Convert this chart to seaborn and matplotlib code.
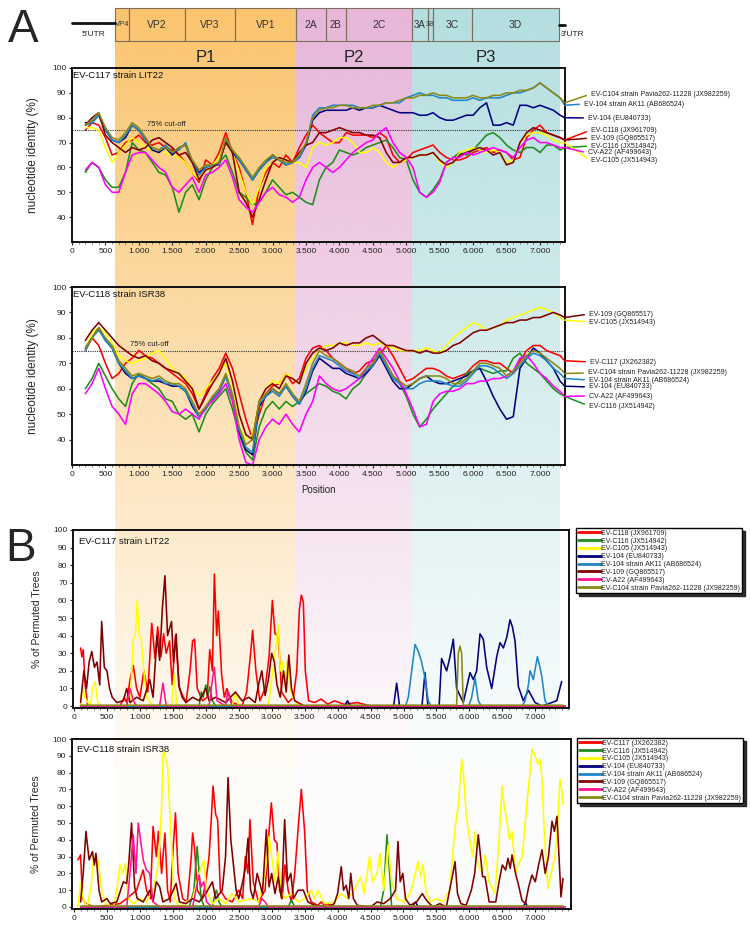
import numpy as np
import pandas as pd
import matplotlib
matplotlib.use("Agg")
import matplotlib.pyplot as plt
import matplotlib.colors as mcolors
import seaborn as sns
from matplotlib.lines import Line2D
from matplotlib.patches import Rectangle
from matplotlib.ticker import FuncFormatter, MultipleLocator

# ---------------------------------------------------------------- data
# panel A: sliding-window nucleotide identity (%), sampled every 100 nt
pos_a = np.append(np.arange(200, 7400, 100), 7370)

# query EV-C117 strain LIT22
a1_c118 = [75, 78, 77, 72, 65, 66, 70, 71, 73,
           70, 69, 70, 68, 67, 65, 62, 58, 54, 63,
           61, 66, 74, 66, 60, 50, 37, 52, 58, 62,
           60, 65, 62, 68, 73, 77, 74, 72, 70, 70,
           74, 73, 73, 73, 72, 74, 72, 65, 62, 63,
           66, 67, 68, 69, 66, 64, 63, 63, 64, 66,
           67, 68, 66, 67, 66, 63, 64, 72, 75, 77,
           74, 73, 72, 71]
a1_c116 = [58, 62, 60, 55, 52, 52, 58, 70, 67,
           66, 62, 58, 57, 52, 42, 50, 53, 47, 55,
           60, 62, 65, 58, 50, 48, 45, 46, 50, 55,
           52, 49, 50, 48, 46, 45, 55, 60, 62, 67,
           66, 65, 66, 68, 69, 70, 71, 68, 64, 63,
           55, 50, 48, 51, 55, 62, 64, 66, 65, 67,
           70, 73, 74, 72, 69, 67, 66, 68, 68, 66,
           69, 69, 67, 68]
a1_c105 = [76, 76, 75, 68, 62, 66, 69, 72, 70,
           68, 67, 67, 66, 65, 64, 62, 58, 55, 60,
           61, 64, 70, 66, 58, 50, 45, 52, 60, 62,
           64, 63, 62, 62, 60, 68, 70, 69, 70, 72,
           72, 70, 66, 66, 68, 66, 62, 60, 62, 63,
           64, 65, 65, 66, 62, 60, 62, 66, 67, 68,
           67, 66, 67, 66, 62, 63, 70, 73, 74, 74,
           73, 71, 70, 70]
a1_104 = [78, 78, 81, 75, 71, 70, 72, 77, 75,
          71, 67, 66, 68, 65, 68, 69, 62, 58, 60,
          61, 61, 71, 66, 63, 59, 55, 59, 62, 65,
          63, 61, 62, 64, 69, 79, 82, 83, 83, 83,
          83, 84, 83, 84, 84, 85, 84, 83, 82, 82,
          82, 81, 81, 82, 80, 79, 79, 80, 81, 81,
          84, 86, 77, 77, 78, 77, 85, 85, 84, 85,
          84, 83, 81, 80]
a1_104ak11 = [77, 78, 81, 75, 71, 70, 73, 77, 75,
              71, 68, 67, 69, 66, 67, 70, 62, 57, 60,
              61, 61, 71, 67, 63, 59, 55, 59, 62, 64,
              63, 61, 62, 64, 69, 81, 84, 84, 85, 85,
              85, 85, 84, 84, 84, 85, 86, 86, 86, 88,
              89, 90, 89, 89, 88, 88, 87, 87, 87, 88,
              87, 88, 88, 88, 89, 90, 90, 91, 92, 94,
              92, 90, 88, 85]
a1_109 = [77, 80, 82, 73, 70, 68, 66, 68, 67,
          68, 71, 72, 70, 68, 65, 66, 62, 55, 59,
          60, 62, 70, 66, 50, 46, 40, 47, 55, 62,
          64, 63, 62, 66, 69, 70, 74, 74, 75, 76,
          75, 74, 74, 73, 73, 72, 66, 62, 62, 64,
          64, 65, 65, 66, 63, 61, 62, 65, 66, 67,
          68, 67, 65, 66, 61, 62, 70, 74, 76, 75,
          74, 73, 72, 71]
a1_a22 = [59, 62, 60, 53, 50, 50, 58, 65, 66,
          66, 63, 60, 58, 52, 50, 53, 56, 50, 57,
          58, 60, 63, 56, 47, 44, 42, 46, 50, 52,
          49, 48, 46, 48, 55, 60, 62, 60, 58, 60,
          63, 66, 68, 70, 71, 74, 76, 70, 66, 64,
          60, 50, 48, 50, 54, 62, 64, 64, 66, 65,
          66, 67, 68, 67, 66, 64, 68, 71, 72, 70,
          70, 69, 68, 68]
a1_c104 = [77, 79, 82, 76, 72, 71, 74, 78, 76,
           72, 68, 67, 68, 66, 68, 69, 63, 59, 61,
           61, 62, 72, 67, 64, 60, 56, 60, 63, 65,
           63, 62, 62, 65, 70, 80, 83, 84, 84, 85,
           85, 84, 84, 84, 85, 85, 86, 86, 87, 88,
           88, 89, 89, 90, 89, 89, 88, 88, 88, 89,
           88, 88, 89, 89, 90, 90, 91, 91, 92, 94,
           92, 90, 88, 86]

# query EV-C118 strain ISR38
a2_c117 = [75, 80, 77, 70, 64, 66, 70, 72, 75,
           73, 72, 70, 68, 66, 64, 62, 58, 52, 58,
           64, 68, 74, 68, 58, 48, 40, 50, 58, 61,
           62, 66, 62, 64, 72, 76, 77, 75, 72, 70,
           68, 66, 67, 70, 71, 73, 77, 73, 68, 63,
           64, 66, 68, 68, 67, 65, 64, 65, 66, 69,
           71, 71, 70, 70, 68, 66, 71, 75, 77, 77,
           75, 74, 73, 71]
a2_c116 = [60, 64, 70, 65, 60, 56, 53, 62, 66,
           64, 62, 60, 56, 55, 50, 48, 50, 43, 50,
           54, 57, 60, 52, 42, 35, 32, 45, 52, 55,
           52, 55, 53, 55, 58, 60, 62, 61, 59, 58,
           56, 60, 62, 66, 70, 75, 70, 65, 62, 57,
           50, 45, 48, 52, 55, 58, 61, 63, 66, 67,
           68, 67, 66, 67, 67, 72, 74, 70, 68, 66,
           63, 60, 58, 57]
a2_c105 = [76, 82, 84, 82, 78, 73, 71, 70, 71,
           72, 74, 75, 72, 68, 66, 64, 60, 57, 60,
           63, 66, 70, 62, 45, 40, 42, 55, 60, 63,
           62, 66, 64, 62, 68, 72, 75, 77, 77, 78,
           78, 77, 77, 78, 77, 78, 77, 76, 75, 75,
           75, 75, 76, 75, 74, 77, 80, 82, 84, 86,
           85, 83, 84, 85, 87, 88, 89, 90, 91, 92,
           91, 90, 88, 87]
a2_104 = [76, 80, 84, 79, 76, 70, 66, 64, 65,
          64, 63, 63, 62, 61, 61, 59, 53, 49, 52,
          56, 59, 65, 57, 43, 36, 34, 53, 57, 60,
          58, 61, 57, 54, 59, 67, 72, 70, 68, 68,
          66, 65, 64, 66, 69, 73, 68, 63, 60, 60,
          62, 64, 65, 63, 62, 62, 63, 64, 65, 67,
          68, 63, 57, 52, 48, 49, 68, 72, 76, 74,
          71, 68, 63, 61]
a2_104ak11 = [75, 80, 83, 79, 76, 70, 67, 64, 65,
              64, 63, 64, 62, 62, 61, 59, 54, 49, 52,
              56, 59, 65, 57, 44, 37, 35, 54, 57, 59,
              57, 61, 57, 54, 60, 68, 73, 72, 71, 69,
              67, 66, 64, 67, 69, 74, 69, 64, 62, 60,
              60, 62, 63, 63, 63, 62, 61, 61, 63, 66,
              69, 69, 68, 66, 64, 66, 69, 72, 74, 73,
              71, 68, 66, 64]
a2_109 = [79, 83, 86, 83, 80, 77, 75, 73, 72,
          73, 71, 70, 68, 67, 66, 63, 60, 52, 57,
          62, 66, 72, 63, 50, 42, 40, 55, 60, 62,
          60, 65, 64, 62, 70, 74, 76, 75, 76, 78,
          77, 78, 78, 80, 81, 79, 77, 77, 76, 75,
          75, 74, 75, 74, 74, 75, 77, 78, 80, 82,
          83, 83, 84, 85, 86, 86, 87, 87, 88, 88,
          89, 90, 89, 88]
a2_a22 = [58, 62, 68, 60, 53, 50, 46, 58, 62,
          62, 60, 58, 55, 51, 50, 52, 50, 48, 53,
          55, 58, 62, 55, 40, 31, 30, 40, 45, 48,
          46, 50, 46, 43, 50, 55, 65, 62, 60, 59,
          60, 62, 64, 68, 72, 76, 72, 68, 63, 58,
          52, 45, 46, 55, 58, 59, 59, 60, 62, 62,
          63, 63, 64, 64, 65, 67, 72, 73, 70, 66,
          64, 61, 59, 57]
a2_c104 = [76, 80, 84, 80, 77, 71, 68, 65, 66,
           65, 64, 65, 63, 62, 62, 60, 55, 50, 53,
           57, 60, 66, 58, 45, 38, 40, 55, 58, 60,
           58, 62, 58, 55, 62, 70, 75, 73, 72, 70,
           68, 67, 65, 68, 70, 75, 70, 65, 63, 61,
           62, 64, 65, 65, 65, 64, 62, 62, 64, 67,
           70, 70, 69, 68, 65, 67, 70, 73, 75, 74,
           72, 70, 68, 66]

# panel B: % of permuted trees, (position, value) points
b1_c118 = [(100, 33), (120, 28), (140, 32), (170, 12), (210, 0), (700, 0), (760, 5), (800, 2),
           (850, 15), (900, 23), (950, 10), (1000, 5), (1060, 20), (1120, 8), (1180, 47),
           (1230, 27), (1270, 45), (1320, 28), (1360, 41), (1400, 30), (1450, 37), (1490, 12),
           (1540, 40), (1600, 10), (1700, 2), (1760, 20), (1800, 37), (1830, 38), (1870, 10),
           (1950, 3), (2020, 5), (2060, 32), (2100, 20), (2130, 75), (2165, 40), (2190, 54),
           (2240, 18), (2280, 5), (2320, 10), (2400, 2), (2550, 0), (2620, 8), (2680, 30),
           (2710, 43), (2760, 20), (2820, 3), (2900, 10), (2960, 28), (3010, 60), (3050, 41),
           (3100, 40), (3150, 8), (3250, 2), (3330, 5), (3380, 20), (3420, 55), (3450, 63),
           (3480, 59), (3510, 20), (3560, 3), (3650, 2), (3750, 4), (3850, 1), (3950, 3),
           (4100, 1), (4300, 2), (4500, 0), (7450, 0)]
b1_c116 = [(100, 0), (1900, 0), (1930, 8), (1960, 5), (2000, 12), (2030, 6), (2060, 11),
           (2100, 3), (2150, 0), (7450, 0)]
b1_c105 = [(100, 0), (130, 12), (160, 5), (250, 0), (280, 10), (320, 14), (360, 2), (400, 0),
           (850, 0), (900, 38), (930, 40), (960, 60), (990, 40), (1020, 38), (1060, 20),
           (1100, 5), (1200, 0), (1480, 0), (1520, 18), (1560, 0), (2400, 0), (2450, 8),
           (2500, 0), (2950, 0), (3000, 15), (3050, 30), (3100, 46), (3130, 20), (3160, 25),
           (3200, 12), (3240, 26), (3280, 10), (3320, 5), (3400, 0), (7450, 0)]
b1_104 = [(100, 0), (4100, 0), (4150, 3), (4200, 0), (4850, 0), (4896, 13), (4940, 0),
          (5280, 0), (5326, 19), (5370, 0), (5540, 0), (5578, 27), (5655, 20), (5705, 28),
          (5756, 38), (5806, 10), (5907, 2), (6009, 19), (6060, 15), (6110, 20), (6161, 41),
          (6211, 38), (6262, 22), (6338, 10), (6414, 28), (6464, 36), (6515, 33), (6566, 39),
          (6616, 49), (6652, 45), (6692, 37), (6743, 11), (6818, 3), (6895, 9), (6996, 2),
          (7100, 0), (7325, 3), (7400, 14)]
b1_104ak11 = [(100, 0), (5030, 0), (5073, 5), (5124, 20), (5175, 35), (5225, 31), (5275, 25),
              (5326, 16), (5376, 3), (5420, 0), (5990, 0), (6034, 5), (6085, 16), (6135, 3),
              (6180, 0), (6800, 0), (6844, 3), (6895, 12), (6920, 20), (6970, 15), (7031, 28),
              (7071, 22), (7097, 17), (7147, 3), (7200, 0), (7420, 0)]
b1_109 = [(100, 2), (150, 20), (190, 10), (230, 25), (270, 31), (310, 22), (350, 25), (390, 12),
          (420, 48), (460, 22), (500, 20), (540, 10), (580, 5), (650, 2), (750, 3), (800, 10),
          (850, 2), (950, 5), (1050, 3), (1150, 15), (1200, 5), (1260, 40), (1300, 26),
          (1340, 55), (1380, 74), (1420, 40), (1450, 44), (1480, 48), (1510, 25), (1550, 41),
          (1590, 12), (1640, 5), (1700, 2), (1800, 5), (1900, 3), (2000, 10), (2050, 3),
          (2150, 5), (2300, 2), (2450, 8), (2550, 3), (2650, 5), (2750, 2), (2800, 12),
          (2850, 20), (2900, 6), (2950, 15), (3000, 30), (3040, 25), (3080, 12), (3130, 5),
          (3180, 20), (3220, 8), (3260, 29), (3300, 10), (3350, 3), (3400, 2), (3500, 0),
          (7450, 0)]
b1_a22 = [(100, 0), (800, 0), (850, 10), (900, 3), (950, 0), (1300, 0), (1350, 13), (1400, 0),
          (2050, 0), (2100, 15), (2130, 22), (2170, 3), (2300, 0), (2330, 8), (2400, 0),
          (7450, 0)]
b1_c104 = [(100, 0.5), (5806, 0.5), (5831, 30), (5857, 34), (5882, 30), (5907, 0.5),
           (7420, 0.5)]

b2_c117 = [(60, 28), (100, 31), (130, 5), (180, 2), (300, 0), (700, 2), (800, 5), (950, 10),
           (1050, 22), (1100, 10), (1160, 5), (1200, 48), (1250, 30), (1280, 45), (1330, 20),
           (1380, 44), (1420, 10), (1460, 3), (1500, 32), (1540, 56), (1580, 20), (1650, 5),
           (1720, 3), (1780, 30), (1800, 44), (1830, 35), (1870, 10), (1950, 5), (2000, 15),
           (2050, 30), (2080, 50), (2110, 72), (2150, 55), (2180, 52), (2220, 10), (2300, 5),
           (2400, 3), (2500, 10), (2560, 5), (2600, 30), (2640, 20), (2670, 52), (2720, 15),
           (2800, 3), (2900, 10), (2960, 45), (2995, 62), (3040, 40), (3080, 38), (3120, 10),
           (3160, 5), (3200, 25), (3250, 10), (3300, 3), (3350, 20), (3410, 51), (3450, 70),
           (3500, 45), (3540, 10), (3600, 3), (3700, 1), (3750, 3), (3800, 1), (3850, 2),
           (3950, 0), (7450, 0)]
b2_c116 = [(100, 0), (1750, 0), (1820, 10), (1869, 36), (1900, 20), (1930, 5), (1980, 0),
           (2100, 0), (2140, 8), (2162, 10), (2200, 3), (2250, 0), (3250, 0), (3300, 4),
           (3350, 0), (4650, 0), (4700, 10), (4750, 43), (4790, 20), (4820, 0), (7450, 0)]
b2_c105 = [(60, 0), (100, 14), (140, 5), (200, 0), (260, 12), (300, 30), (343, 30), (370, 27),
           (420, 10), (480, 2), (600, 0), (650, 10), (697, 25), (740, 20), (780, 26), (820, 5),
           (900, 2), (1000, 5), (1100, 3), (1200, 10), (1280, 25), (1330, 60), (1353, 93),
           (1380, 90), (1420, 84), (1450, 60), (1490, 30), (1520, 5), (1600, 0), (1700, 3),
           (1800, 5), (1900, 20), (1970, 28), (2010, 10), (2100, 2), (2200, 5), (2300, 2),
           (2400, 8), (2500, 3), (2700, 5), (2800, 3), (2900, 20), (2960, 42), (3000, 30),
           (3050, 15), (3096, 33), (3140, 10), (3200, 5), (3300, 8), (3400, 3), (3500, 5),
           (3600, 10), (3650, 5), (3700, 10), (3800, 2), (3950, 3), (4050, 8), (4150, 5),
           (4250, 10), (4350, 18), (4400, 8), (4450, 20), (4485, 30), (4530, 15), (4600, 20),
           (4643, 32), (4700, 10), (4768, 37), (4820, 15), (4900, 5), (5000, 3), (5100, 8),
           (5150, 15), (5220, 27), (5260, 18), (5296, 25), (5340, 10), (5400, 3), (5500, 5),
           (5600, 3), (5700, 10), (5782, 47), (5830, 60), (5883, 88), (5910, 80), (5950, 55),
           (6009, 39), (6050, 30), (6085, 45), (6130, 25), (6200, 20), (6237, 31), (6300, 15),
           (6389, 8), (6450, 40), (6495, 72), (6530, 60), (6571, 50), (6610, 40), (6647, 45),
           (6700, 20), (6737, 25), (6800, 30), (6874, 62), (6920, 80), (6950, 94), (6996, 90),
           (7040, 85), (7070, 88), (7102, 76), (7140, 41), (7193, 11), (7240, 20), (7299, 30),
           (7340, 50), (7375, 76), (7400, 70), (7420, 61)]
b2_104 = [(100, 0), (5130, 0), (5180, 3), (5230, 0), (6820, 0), (6850, 3), (6880, 0), (7420, 0)]
b2_104ak11 = [(100, 0), (7420, 0)]
b2_109 = [(100, 3), (140, 20), (182, 45), (230, 28), (280, 33), (310, 25), (333, 32), (380, 10),
          (420, 3), (500, 5), (550, 2), (650, 3), (750, 15), (800, 14), (830, 25), (874, 50),
          (920, 12), (960, 5), (1050, 3), (1150, 10), (1200, 3), (1250, 15), (1300, 12),
          (1350, 3), (1450, 5), (1550, 14), (1600, 3), (1700, 2), (1800, 5), (1900, 3),
          (2000, 8), (2100, 15), (2150, 5), (2250, 10), (2300, 30), (2338, 77), (2380, 40),
          (2420, 25), (2460, 10), (2500, 5), (2560, 15), (2600, 23), (2641, 41), (2680, 10),
          (2720, 5), (2780, 20), (2860, 8), (2919, 46), (2960, 12), (3000, 20), (3050, 8),
          (3100, 18), (3150, 5), (3197, 52), (3240, 15), (3290, 20), (3330, 5), (3400, 10),
          (3480, 10), (3550, 3), (3650, 1), (3850, 0), (3950, 2), (4000, 8), (4056, 24),
          (4090, 10), (4130, 13), (4170, 5), (4200, 20), (4240, 5), (4300, 1), (4500, 0),
          (4600, 3), (4700, 2), (4800, 5), (4880, 10), (4916, 39), (4950, 15), (4990, 20),
          (5030, 5), (5100, 1), (5200, 3), (5286, 8), (5330, 5), (5370, 3), (5450, 0),
          (5550, 2), (5650, 0), (5700, 10), (5750, 20), (5782, 27), (5820, 8), (5870, 2),
          (5950, 1), (6030, 10), (6080, 20), (6135, 43), (6170, 30), (6200, 18), (6237, 18),
          (6300, 3), (6400, 3), (6450, 15), (6500, 25), (6550, 22), (6586, 29), (6620, 23),
          (6647, 31), (6700, 20), (6740, 14), (6798, 4), (6850, 2), (6900, 12), (6950, 19),
          (7000, 15), (7050, 25), (7102, 34), (7150, 20), (7200, 30), (7254, 51), (7290, 45),
          (7329, 54), (7360, 30), (7390, 6), (7420, 17)]
b2_a22 = [(100, 0), (800, 0), (850, 20), (899, 43), (940, 20), (975, 50), (1010, 40), (1050, 28),
          (1100, 22), (1150, 20), (1200, 3), (1300, 0), (1800, 0), (1850, 10), (1894, 19),
          (1930, 12), (1970, 15), (2010, 3), (2100, 0), (2800, 0), (2850, 5), (2900, 3),
          (2950, 0), (7450, 0)]
b2_c104 = [(100, 0.5), (7420, 0.5)]

# genome map (nt positions)
gene_names = ["VP4", "VP2", "VP3", "VP1", "2A", "2B", "2C", "3A", "3B", "3C", "3D"]
gene_starts = [643, 852, 1689, 2436, 3348, 3797, 4096, 5082, 5321, 5396, 5979]
genome_end = 7284
region_names = ["P1", "P2", "P3"]
region_bounds = [643, 3348, 5082, 7284]

names = {
    "C118": "EV-C118 (JX961709)",
    "C117": "EV-C117 (JX262382)",
    "C116": "EV-C116 (JX514942)",
    "C105": "EV-C105 (JX514943)",
    "104": "EV-104 (EU840733)",
    "104AK11": "EV-104 strain AK11 (AB686524)",
    "109": "EV-109 (GQ865517)",
    "A22": "CV-A22 (AF499643)",
    "C104": "EV-C104 strain Pavia262-11228 (JX982259)",
}
colors = {
    "C118": "#FF0000", "C117": "#FF0000", "C116": "#1E8C1E", "C105": "#FFFF00",
    "104": "#000080", "104AK11": "#1F86C8", "109": "#800000", "A22": "#FF00FF",
    "C104": "#8A8A12",
}
region_colors = ["#FBC46E", "#E7B6D9", "#B4DEE0"]

# ---------------------------------------------------------------- figure
W, H = 750, 925
sns.set_theme(style="ticks")
plt.rcParams["font.family"] = ["Liberation Sans", "DejaVu Sans"]
NARROW = ["Liberation Sans Narrow", "Liberation Sans", "DejaVu Sans"]

fig = plt.figure(figsize=(W / 100, H / 100), dpi=100)


def px_axes(x0, y0, x1, y1):
    return fig.add_axes([x0 / W, 1 - y1 / H, (x1 - x0) / W, (y1 - y0) / H])


def thousands(v, _):
    return f"{int(round(v)):,}".replace(",", ".")


# background: coloured P1/P2/P3 bands that fade towards the bottom
XMAX_A = 7374
bg = px_axes(72, 0, 565, H)
bg.set_zorder(-1)
ys = np.linspace(8, 908, 300)
fade = np.clip(1 - (ys - 8) / 800, 0.05, 1)
for i, c in enumerate(region_colors):
    img = np.zeros((len(ys), 1, 4))
    img[..., :3] = mcolors.to_rgb(c)
    img[..., 3] = fade[:, None]
    bg.imshow(img, extent=(region_bounds[i], region_bounds[i + 1], 908, 8),
              aspect="auto", interpolation="bilinear")
bg.set_xlim(0, XMAX_A)
bg.set_ylim(H, 0)
bg.axis("off")

# genome map
ends = gene_starts[1:] + [genome_end]
for g, s, e in zip(gene_names, gene_starts, ends):
    bg.add_patch(Rectangle((s, 8), e - s, 33, fill=False, ec="#7D6E5E", lw=0.8))
    fs = 7.5
    if g == "VP4":
        fs = 5.5
    elif g in ("3A", "2B"):
        fs = 7
    elif g == "3B":
        fs = 5
    bg.text((s + e) / 2, 25, g, ha="center", va="center", fontsize=fs,
            family=NARROW, color="#333333")
bg.add_line(Line2D([0, gene_starts[0]], [23, 23], color="#111111", lw=2, clip_on=False))
bg.add_line(Line2D([genome_end, XMAX_A], [25, 25], color="#111111", lw=2, clip_on=False))
bg.text(gene_starts[0] / 2, 34, "5\u2019UTR", ha="center", va="center", fontsize=6,
        family=NARROW, color="#222222")
bg.text(genome_end + 20, 34, "3\u2019UTR", ha="left", va="center", fontsize=6,
        family=NARROW, color="#222222", clip_on=False)
for i, r in enumerate(region_names):
    bg.text((region_bounds[i] + region_bounds[i + 1]) / 2, 58, r, ha="center",
            va="center", fontsize=12, color="#222222")

fig.text(8 / W, 1 - 42 / H, "A", fontsize=33, va="baseline")
fig.text(5 / W, 1 - 561 / H, "B", fontsize=33, va="baseline")


def style_axes(ax, xlim, ylim, yticks):
    ax.set_facecolor("none")
    ax.set_xlim(*xlim)
    ax.set_ylim(*ylim)
    ax.set_xticks(np.arange(0, 7001, 500))
    ax.xaxis.set_minor_locator(MultipleLocator(100))
    ax.set_yticks(yticks)
    ax.xaxis.set_major_formatter(FuncFormatter(thousands))
    ax.tick_params(which="major", length=2.5, width=0.8, labelsize=6,
                   colors="#222222", pad=1.5)
    ax.tick_params(which="minor", length=1.3, width=0.5, colors="#444444")
    for s in ax.spines.values():
        s.set_linewidth(1.4)
        s.set_color("#111111")
    ax.set_xlabel("")
    ax.set_ylabel("")


def draw_identity(ax, series, keys, title, label_px):
    frames = [pd.DataFrame({"pos": pos_a, "identity": series[k], "strain": names[k]})
              for k in keys]
    df = pd.concat(frames, ignore_index=True)
    pal = {names[k]: colors[k] for k in keys}
    sns.lineplot(data=df, x="pos", y="identity", hue="strain",
                 hue_order=[names[k] for k in keys], palette=pal, estimator=None,
                 sort=False, legend=False, linewidth=1.15, ax=ax)
    style_axes(ax, (0, XMAX_A), (30, 100), np.arange(40, 101, 10))
    ax.axhline(75, color="#333333", ls=(0, (1, 1)), lw=0.8, zorder=1.5)
    ax.set_ylabel("nucleotide identity (%)", fontsize=8.5)
    ax.yaxis.set_label_coords(-0.067, 0.5)
    ax.text(0.003, 0.985, title, transform=ax.transAxes, ha="left", va="top",
            fontsize=6.8, color="#111111")
    for k in keys:
        tx, ty = label_px[k]
        ax.annotate(names[k], xy=(pos_a[-1], series[k][-1]), xycoords="data",
                    xytext=(tx, H - ty), textcoords="figure pixels", fontsize=5,
                    ha="left", va="center", color="#222222", annotation_clip=False,
                    arrowprops=dict(arrowstyle="-", color=colors[k], lw=1.1,
                                    shrinkA=1, shrinkB=0, relpos=(0, 0.5)))


def draw_permuted(ax, series, keys, title, xlim, ylim, title_px, legend_px):
    frames = []
    for k in keys:
        pts = np.array(series[k], dtype=float)
        frames.append(pd.DataFrame({"pos": pts[:, 0], "trees": pts[:, 1],
                                    "strain": names[k]}))
    df = pd.concat(frames, ignore_index=True)
    pal = {names[k]: colors[k] for k in keys}
    pal[names["A22"]] = "#FF1493"
    sns.lineplot(data=df, x="pos", y="trees", hue="strain",
                 hue_order=[names[k] for k in keys], palette=pal, estimator=None,
                 sort=False, legend=False, linewidth=1.15, ax=ax)
    style_axes(ax, xlim, ylim, np.arange(0, 101, 10))
    ax.set_ylabel("% of Permuted Trees", fontsize=7.5)
    ax.yaxis.set_label_coords(-0.063, 0.5)
    fig.text(title_px[0] / W, 1 - title_px[1] / H, title, ha="left", va="center",
             fontsize=6.8, color="#111111")
    handles = [Line2D([], [], color=pal[names[k]], lw=2) for k in keys]
    leg = ax.legend(handles, [names[k] for k in keys], loc="upper left",
                    bbox_to_anchor=(legend_px[0] / W, 1 - legend_px[1] / H),
                    bbox_transform=fig.transFigure, frameon=True, fancybox=False,
                    shadow={"color": "#1A1A1A", "alpha": 0.9}, fontsize=5,
                    handlelength=3.3, handletextpad=0.1, labelspacing=0.12,
                    borderpad=0.25, borderaxespad=0)
    leg.get_frame().set_edgecolor("#000000")
    leg.get_frame().set_linewidth(1.0)
    leg.get_frame().set_facecolor("white")
    leg.get_frame().set_alpha(1)


# ---------------------------------------------------------------- panel A
ax_a1 = px_axes(72, 68, 565, 242)
draw_identity(
    ax_a1,
    {"C118": a1_c118, "C116": a1_c116, "C105": a1_c105, "104": a1_104,
     "104AK11": a1_104ak11, "109": a1_109, "A22": a1_a22, "C104": a1_c104},
    ["C118", "C116", "C105", "104", "104AK11", "109", "A22", "C104"],
    "EV-C117 strain LIT22",
    {"C104": (591, 94), "104AK11": (584, 104), "104": (588, 118), "C118": (591, 130),
     "109": (591, 138), "C116": (591, 146), "A22": (588, 153), "C105": (591, 161)},
)
ax_a1.text(1122, 76, "75% cut-off", fontsize=5.5, color="#222222", va="bottom")

ax_a2 = px_axes(72, 287, 565, 465)
draw_identity(
    ax_a2,
    {"C117": a2_c117, "C116": a2_c116, "C105": a2_c105, "104": a2_104,
     "104AK11": a2_104ak11, "109": a2_109, "A22": a2_a22, "C104": a2_c104},
    ["C117", "C116", "C105", "104", "104AK11", "109", "A22", "C104"],
    "EV-C118 strain ISR38",
    {"109": (589, 314), "C105": (589, 322), "C117": (590, 362), "C104": (588, 373),
     "104AK11": (589, 380), "104": (589, 387), "A22": (589, 396), "C116": (589, 406)},
)
ax_a2.text(867, 76, "75% cut-off", fontsize=5.5, color="#222222", va="bottom")
ax_a2.set_xlabel("Position", fontsize=7, va="center")
ax_a2.xaxis.set_label_coords(0.5, -0.14)

# ---------------------------------------------------------------- panel B
ax_b1 = px_axes(73, 530, 569, 708)
draw_permuted(
    ax_b1,
    {"C118": b1_c118, "C116": b1_c116, "C105": b1_c105, "104": b1_104,
     "104AK11": b1_104ak11, "109": b1_109, "A22": b1_a22, "C104": b1_c104},
    ["C118", "C116", "C105", "104", "104AK11", "109", "A22", "C104"],
    "EV-C117 strain LIT22", (-15, 7511), (-1.1, 100), (79, 541), (576, 528),
)

ax_b2 = px_axes(72, 739, 571, 909)
draw_permuted(
    ax_b2,
    {"C117": b2_c117, "C116": b2_c116, "C105": b2_c105, "104": b2_104,
     "104AK11": b2_104ak11, "109": b2_109, "A22": b2_a22, "C104": b2_c104},
    ["C117", "C116", "C105", "104", "104AK11", "109", "A22", "C104"],
    "EV-C118 strain ISR38", (-30, 7542), (-1.2, 100), (77, 750), (577, 738),
)

fig.savefig("out.png", dpi=100)
